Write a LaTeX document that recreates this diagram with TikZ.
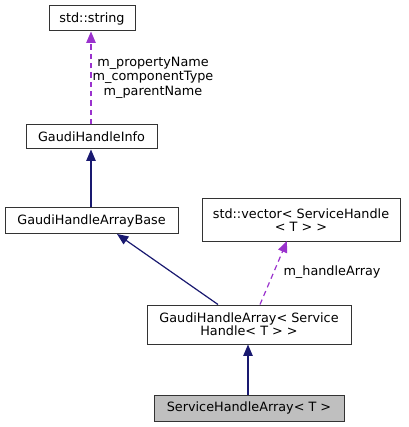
\documentclass[tikz,border=0pt]{standalone}
\usepackage{fontspec}
\setmainfont{DejaVu Sans}
\usetikzlibrary{arrows.meta}
\definecolor{inh}{HTML}{191970}
\definecolor{use}{HTML}{9A32CD}
\definecolor{boxfill}{HTML}{BFBFBF}
\begin{document}
\begin{tikzpicture}[x=0.75pt,y=-0.75pt,
  box/.style={draw=black!80,line width=0.75pt,fill=white,inner sep=0pt,align=center,font=\fontsize{9.6}{9.9}\selectfont},
  inhedge/.style={draw=inh,line width=0.9pt,-{Triangle[length=8.5pt,width=7pt]}},
  useedge/.style={draw=use,line width=0.9pt,dashed,dash pattern=on 4pt off 3pt,-{Triangle[length=8.5pt,width=7pt,fill=use]}},
  lbl/.style={font=\fontsize{9.6}{10.9}\selectfont,align=center,inner sep=0pt}]
\useasboundingbox (0,0) rectangle (408,427);
\node[box,minimum width=86*0.75pt,minimum height=25*0.75pt] (str) at (92,18.5) {std::string};
\node[box,minimum width=131*0.75pt,minimum height=24*0.75pt] (info) at (91.5,137) {GaudiHandleInfo};
\node[box,minimum width=173*0.75pt,minimum height=25*0.75pt] (base) at (91.5,220.5) {GaudiHandleArrayBase};
\node[box,minimum width=198*0.75pt,minimum height=42*0.75pt] (vec) at (301,220) {std::vector< ServiceHandle\\< T > >};
\node[box,minimum width=204*0.75pt,minimum height=39*0.75pt] (gha) at (249,324.5) {GaudiHandleArray< Service\\Handle< T > >};
\node[box,fill=boxfill,minimum width=190*0.75pt,minimum height=26*0.75pt] (sha) at (249,408) {ServiceHandleArray< T >};
\draw[useedge] (info.north -| 91,0) -- (str.south -| 91,0);
\node[lbl] (l1) at (153,77.5) {m\_propertyName\\m\_componentType\\m\_parentName};
\draw[inhedge] (base.north -| 91,0) -- (info.south -| 91,0);
\draw[inhedge] (gha.north -| 218,0) -- (117,234);
\draw[useedge] (gha.north -| 260,0) -- (287,241);
\node[lbl] (l2) at (332,272) {m\_handleArray};
\draw[inhedge] (sha.north -| 248,0) -- (gha.south -| 248,0);
\end{tikzpicture}
\end{document}
